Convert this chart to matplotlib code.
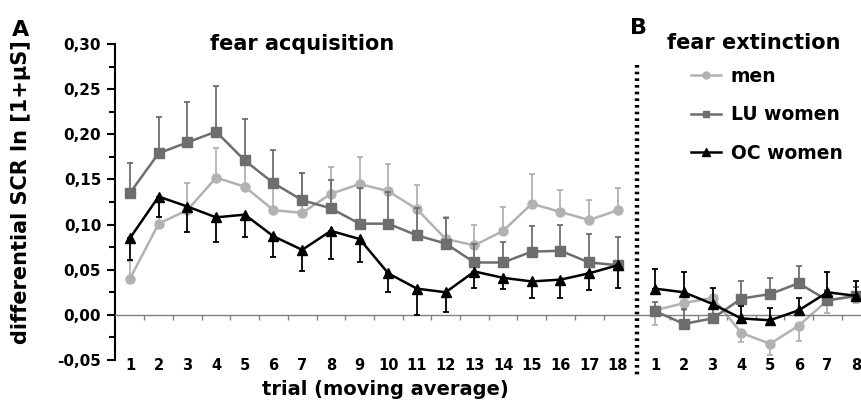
import numpy as np
import matplotlib
matplotlib.use("Agg")
import matplotlib.pyplot as plt
from matplotlib.ticker import MultipleLocator, FixedLocator, FuncFormatter

plt.rcParams['font.family'] = ['DejaVu Sans']
plt.rcParams['font.weight'] = 'bold'
plt.rcParams['axes.labelweight'] = 'bold'

# ---- data ----
acq_trials = list(range(1, 19))
ext_trials = list(range(1, 9))

men_acq = [0.040, 0.101, 0.116, 0.152, 0.142, 0.116, 0.113, 0.134, 0.145,
           0.137, 0.117, 0.084, 0.077, 0.093, 0.123, 0.114, 0.105, 0.116]
men_acq_err = [0.020, 0.030, 0.030, 0.033, 0.030, 0.030, 0.044, 0.030, 0.030,
               0.030, 0.027, 0.024, 0.022, 0.026, 0.033, 0.024, 0.022, 0.024]
lu_acq = [0.135, 0.179, 0.191, 0.203, 0.171, 0.146, 0.127, 0.118, 0.101,
          0.101, 0.088, 0.079, 0.058, 0.058, 0.070, 0.071, 0.058, 0.055]
lu_acq_err = [0.033, 0.040, 0.045, 0.050, 0.046, 0.037, 0.030, 0.031, 0.040,
              0.035, 0.030, 0.028, 0.020, 0.023, 0.028, 0.028, 0.032, 0.031]
oc_acq = [0.085, 0.131, 0.120, 0.108, 0.111, 0.087, 0.072, 0.093, 0.084,
          0.046, 0.029, 0.025, 0.048, 0.041, 0.037, 0.039, 0.046, 0.055]
oc_acq_err = [0.024, 0.023, 0.028, 0.027, 0.025, 0.023, 0.023, 0.031, 0.026,
              0.021, 0.029, 0.022, 0.018, 0.012, 0.018, 0.020, 0.018, 0.025]

men_ext = [0.005, 0.013, 0.019, -0.020, -0.032, -0.012, 0.016, 0.021]
men_ext_err = [0.016, 0.008, 0.010, 0.010, 0.012, 0.017, 0.014, 0.008]
lu_ext = [0.004, -0.010, -0.004, 0.018, 0.023, 0.035, 0.016, 0.021]
lu_ext_err = [0.010, 0.016, 0.010, 0.020, 0.018, 0.019, 0.012, 0.010]
oc_ext = [0.029, 0.025, 0.012, -0.004, -0.006, 0.005, 0.025, 0.021]
oc_ext_err = [0.022, 0.022, 0.018, 0.014, 0.014, 0.014, 0.022, 0.017]

labels = ["men", "LU women", "OC women"]

# ---- positions ----
acq_x = np.array(acq_trials, dtype=float)
ext_x = len(acq_trials) + 0.3 + np.array(ext_trials, dtype=float)
split_x = (acq_x[-1] + ext_x[0]) / 2

fig = plt.figure(figsize=(8.61, 4.04), dpi=100)
ax = fig.add_axes([0.1336, 0.109, 0.8664, 0.782])

styles = [
    dict(color="#b2b2b2", marker="o", ms=6.5, zorder=2),
    dict(color="#6e6e6e", marker="s", ms=6.5, zorder=3),
    dict(color="#000000", marker="^", ms=7.5, zorder=4),
]

def up(err):
    return [np.zeros(len(err)), err]

def down(err):
    return [err, np.zeros(len(err))]

series = [
    (men_acq, up(men_acq_err), men_ext, down(men_ext_err)),
    (lu_acq, up(lu_acq_err), lu_ext, up(lu_ext_err)),
    (oc_acq, down(oc_acq_err), oc_ext, up(oc_ext_err)),
]

for (ya, ea, ye, ee), st in zip(series, styles):
    for xx, yy, err in ((acq_x, ya, ea), (ext_x, ye, ee)):
        ax.errorbar(xx, yy, yerr=err, color=st["color"], marker=st["marker"],
                    ms=st["ms"], mec=st["color"], lw=1.8, elinewidth=1.3,
                    capsize=2.5, capthick=1.3, zorder=st["zorder"])

# smaller legend handles, like the original
handles = [plt.Line2D([], [], color=st["color"], marker=st["marker"], lw=1.8,
                      ms=st["ms"] - 1.5) for st in styles]

ax.set_xlim(0.48, 26.47)
ax.set_ylim(-0.05, 0.30)

# y axis
ax.yaxis.set_major_locator(MultipleLocator(0.05))
ax.yaxis.set_minor_locator(MultipleLocator(0.025))
ax.yaxis.set_major_formatter(FuncFormatter(lambda v, p: f"{v:.2f}".replace(".", ",")))
ax.tick_params(axis='y', which='major', length=6, width=1.5, labelsize=11, pad=4)
ax.tick_params(axis='y', which='minor', length=4, width=1.5)
ax.spines['left'].set_linewidth(1.5)

# x axis along the zero line, labels pushed below
ax.spines['top'].set_visible(False)
ax.spines['right'].set_visible(False)
ax.spines['bottom'].set_position(('data', 0))
ax.spines['bottom'].set_color('#808080')
ax.spines['bottom'].set_linewidth(1.0)
all_x = np.concatenate([acq_x, ext_x])
ax.xaxis.set_major_locator(FixedLocator(all_x))
ax.set_xticklabels([str(t) for t in acq_trials] + [str(t) for t in ext_trials])
bounds = np.concatenate([acq_x[:-1] + 0.5, ext_x[:-1] + 0.5, [ext_x[-1] + 0.5]])
ax.xaxis.set_minor_locator(FixedLocator(bounds))
ax.tick_params(axis='x', which='major', length=0, pad=31, labelsize=10.5)
ax.tick_params(axis='x', which='minor', length=3.5, width=1.0, color='#808080')

# dotted separator
ax.plot([split_x, split_x], [0.277, -0.07], color='black', lw=3.2,
        ls=(0, (0.6, 0.9)), clip_on=False, zorder=5)

ax.set_ylabel("differential SCR ln [1+µS]", fontsize=15)
ax.yaxis.set_label_coords(-0.112, 0.53)
fig.text(0.4475, 0.035, "trial (moving average)", ha='center', va='center', fontsize=14)

fig.text(0.351, 0.891, "fear acquisition", ha='center', va='center', fontsize=15)
fig.text(0.875, 0.894, "fear extinction", ha='center', va='center', fontsize=15)
fig.text(0.024, 0.926, "A", ha='center', va='center', fontsize=16)
fig.text(0.741, 0.93, "B", ha='center', va='center', fontsize=16)

fig.legend(handles, labels, loc='upper left', bbox_to_anchor=(0.803, 0.835),
           frameon=False, fontsize=13.5, handlelength=1.6, handletextpad=0.5,
           labelspacing=1.05, borderpad=0, borderaxespad=0)

fig.savefig("out.png", dpi=100)
